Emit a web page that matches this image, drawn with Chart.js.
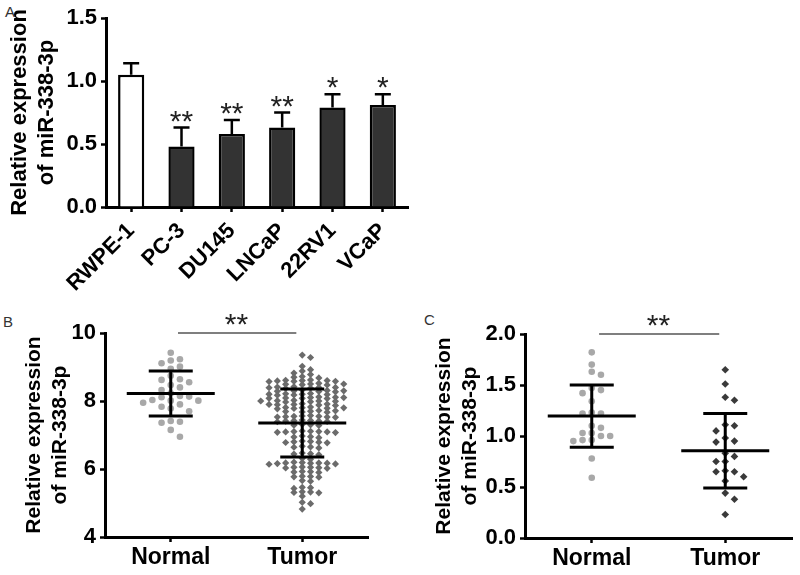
<!DOCTYPE html>
<html><head><meta charset="utf-8">
<script src="https://cdn.jsdelivr.net/npm/chart.js@4.4.1/dist/chart.umd.min.js"></script>
<style>
html,body{margin:0;padding:0;background:#fff;}
#wrap{position:relative;width:800px;height:575px;overflow:hidden;font-family:'Liberation Sans',Arial,sans-serif;}
.pl{position:absolute;font-size:15px;color:#333;line-height:15px;}
canvas{position:absolute;}
</style></head><body>
<div id="wrap">
<div class="pl" style="left:5px;top:4px">A</div>
<div class="pl" style="left:3px;top:314px">B</div>
<div class="pl" style="left:424px;top:312px">C</div>
<canvas id="cA" width="420" height="292" style="left:0;top:0"></canvas>
<canvas id="cB" width="400" height="285" style="left:0;top:290px"></canvas>
<canvas id="cC" width="400" height="285" style="left:400px;top:290px"></canvas>
</div>
<script>
// ---------- data ----------
const cellLines = ['RWPE-1','PC-3','DU145','LNCaP','22RV1','VCaP'];
const meanA = [1.05, 0.48, 0.58, 0.63, 0.79, 0.81];
const errA  = [0.09, 0.15, 0.11, 0.12, 0.105, 0.085];
const sigA  = ['', '**', '**', '**', '*', '*'];

const groups = ['Normal','Tumor'];
const yTitle = ['Relative expression','of miR-338-3p'];

const normalB = [9.42, 9.23, 9.19, 9.11, 9.01, 8.95, 8.74, 8.62, 8.64, 8.55, 8.47, 8.40, 8.32, 8.23, 8.15,
  8.11, 8.13, 8.03, 8.01, 8.01, 7.95, 7.90, 7.83, 7.78, 7.70, 7.41, 7.39, 7.36, 7.15, 6.95];
const tumorB = [9.35, 9.28, 9.02, 8.92, 8.88, 8.82, 8.78, 8.72, 8.70, 8.68,
  8.62, 8.61, 8.60, 8.60, 8.59, 8.58, 8.58, 8.57,
  8.52, 8.50, 8.50, 8.49, 8.48, 8.47,
  8.42, 8.41, 8.40, 8.40, 8.39, 8.38, 8.37,
  8.32, 8.31, 8.30, 8.30, 8.29, 8.28, 8.27,
  8.22, 8.21, 8.20, 8.20, 8.19, 8.18, 8.17,
  8.12, 8.11, 8.10, 8.10, 8.09, 8.08, 8.08, 8.07,
  8.02, 8.01, 8.00, 8.00, 7.99, 7.98, 7.97,
  7.92, 7.91, 7.90, 7.90, 7.89, 7.88, 7.87,
  7.82, 7.81, 7.80, 7.80, 7.79, 7.78, 7.77,
  7.72, 7.71, 7.70, 7.69, 7.68, 7.67,
  7.57, 7.56, 7.55, 7.55, 7.54, 7.53, 7.53, 7.52,
  7.44, 7.43, 7.42, 7.41, 7.41, 7.40, 7.39,
  7.31, 7.30, 7.29, 7.28,
  7.12, 7.11, 7.10, 7.10, 7.09, 7.09, 7.08, 7.07,
  6.97, 6.95, 6.94, 6.92,
  6.82, 6.81, 6.80, 6.79, 6.78, 6.77,
  6.67, 6.65, 6.64, 6.62,
  6.47, 6.45, 6.44, 6.42,
  6.31, 6.29,
  6.20, 6.19, 6.18, 6.18, 6.17, 6.17, 6.16, 6.15, 6.14,
  6.06, 6.05, 6.05, 6.04, 6.03, 6.02,
  5.93, 5.92, 5.91, 5.90,
  5.79, 5.78, 5.77, 5.76,
  5.66, 5.64,
  5.46, 5.45, 5.43,
  5.33, 5.32, 5.31, 5.30,
  5.20, 5.02, 4.98, 4.82];
const meanB = [8.22, 7.35];
const sdB   = [0.66, 1.00];

const normalC = [1.82, 1.70, 1.60, 1.63, 1.47, 1.45, 1.42, 1.34, 1.23, 1.22, 1.22,
  1.10, 1.08, 1.03, 1.03, 1.00, 1.00, 0.95, 0.96, 0.96, 0.78, 0.59];
const tumorC = [1.65, 1.51, 1.38, 1.35, 1.11, 1.10, 1.05, 0.98, 0.95, 0.94, 0.83,
  0.80, 0.75, 0.75, 0.65, 0.65, 0.60, 0.56, 0.66, 0.44, 0.38, 0.23];
const meanC = [1.195, 0.855];
const sdC   = [0.305, 0.365];

// ---------- style ----------
const FF = "'Liberation Sans', Arial, sans-serif";
const tickFont = {family: FF, size: 22, weight: 'bold'};
const black = '#000';
const starFont = "30px " + FF;

function yAxisBase(width, titleSize, titlePad) {
  return {
    grid: {drawOnChartArea: false, tickLength: 5, tickWidth: 2.5, tickColor: black},
    border: {color: black, width: 3},
    ticks: {font: tickFont, color: black, padding: 4},
    title: {display: true, text: yTitle, color: black,
      font: {family: FF, size: titleSize, weight: 'bold', lineHeight: 1.25},
      padding: {top: titlePad, bottom: 0}},
    afterFit(s) { s.width = width; }
  };
}

// ---------- Panel A ----------
const errPlugin = {
  id: 'errA',
  afterDatasetsDraw(chart) {
    const {ctx, scales: {x, y}} = chart;
    ctx.save();
    ctx.strokeStyle = black; ctx.lineWidth = 2.5;
    ctx.fillStyle = '#222';
    ctx.font = starFont; ctx.textAlign = 'center'; ctx.textBaseline = 'alphabetic';
    meanA.forEach((m, i) => {
      const cx = x.getPixelForValue(i);
      const yt = y.getPixelForValue(m);
      const ye = y.getPixelForValue(m + errA[i]);
      ctx.beginPath();
      ctx.moveTo(cx, yt); ctx.lineTo(cx, ye);
      ctx.moveTo(cx - 8, ye); ctx.lineTo(cx + 8, ye);
      ctx.stroke();
      if (sigA[i]) ctx.fillText(sigA[i], cx, ye + 3);
    });
    ctx.restore();
  }
};

new Chart(document.getElementById('cA'), {
  type: 'bar',
  data: {labels: cellLines, datasets: [{
    data: meanA,
    backgroundColor: cellLines.map((c, i) => i === 0 ? '#ffffff' : '#333333'),
    borderColor: black, borderWidth: 2.5,
    barPercentage: 0.52, categoryPercentage: 1
  }]},
  options: {
    responsive: false, animation: false,
    layout: {autoPadding: false, padding: {left: 0, top: 18, right: 12, bottom: 0}},
    plugins: {legend: {display: false}, tooltip: {enabled: false}},
    scales: {
      x: {
        grid: {drawOnChartArea: false, offset: false, tickLength: 5, tickWidth: 2.5, tickColor: black},
        border: {color: black, width: 3},
        ticks: {font: {family: FF, size: 22, weight: 'bold'}, color: black, maxRotation: 45, minRotation: 45, padding: 6, autoSkip: false},
        afterFit(s) { s.height = 85; }
      },
      y: Object.assign(yAxisBase(106, 22, 6), {min: 0, max: 1.5,
        ticks: {font: tickFont, color: black, padding: 4, stepSize: 0.5, callback: v => v.toFixed(1)}})
    }
  },
  plugins: [errPlugin]
});

// ---------- Panels B, C ----------
function statsPlugin(means, sds, id) {
  return {
    id,
    afterDatasetsDraw(chart) {
      const {ctx, scales: {x, y}, chartArea} = chart;
      ctx.save();
      ctx.strokeStyle = black; ctx.lineWidth = 3; ctx.lineCap = 'butt';
      means.forEach((m, i) => {
        const cx = x.getPixelForValue(i + 1);
        const ym = y.getPixelForValue(m);
        const yh = y.getPixelForValue(m + sds[i]);
        const yl = y.getPixelForValue(m - sds[i]);
        ctx.beginPath();
        ctx.moveTo(cx - 44, ym); ctx.lineTo(cx + 44, ym);
        ctx.moveTo(cx, yh); ctx.lineTo(cx, yl);
        ctx.moveTo(cx - 22, yh); ctx.lineTo(cx + 22, yh);
        ctx.moveTo(cx - 22, yl); ctx.lineTo(cx + 22, yl);
        ctx.stroke();
      });
      // significance bar
      const yTop = chartArea.top;
      ctx.strokeStyle = '#555'; ctx.lineWidth = 1.5;
      ctx.beginPath();
      ctx.moveTo(x.getPixelForValue(1.055), yTop); ctx.lineTo(x.getPixelForValue(1.955), yTop);
      ctx.stroke();
      ctx.fillStyle = '#222'; ctx.font = starFont; ctx.textAlign = 'center'; ctx.textBaseline = 'alphabetic';
      ctx.fillText('**', x.getPixelForValue(1.5), yTop + 1);
      ctx.restore();
    }
  };
}

function scatterChart(id, cfg) {
  return new Chart(document.getElementById(id), {
    type: 'scatter',
    data: {datasets: [
      {data: cfg.normal.map(v => ({x: 1, y: v})), pointStyle: 'circle', pointRadius: 3.3,
       backgroundColor: '#a8a8a8', borderWidth: 0},
      {data: cfg.tumor.map(v => ({x: 2, y: v})), pointStyle: 'rectRot', pointRadius: cfg.dRad,
       backgroundColor: cfg.tColor, borderWidth: 0}
    ]},
    options: {
      responsive: false, animation: false,
      layout: {autoPadding: false, padding: cfg.pad},
      plugins: {legend: {display: false}, tooltip: {enabled: false}},
      scales: {
        x: {type: 'linear', min: 0.5, max: 2.5,
          afterBuildTicks(s) { s.ticks = [{value: 1}, {value: 2}]; },
          grid: {drawOnChartArea: false, tickLength: 5, tickWidth: 2.5, tickColor: black},
          border: {color: black, width: 3},
          ticks: {font: {family: FF, size: 23, weight: 'bold'}, color: black, padding: 2,
            callback: v => groups[Math.round(v) - 1]},
          afterFit(s) { s.height = cfg.xh; }
        },
        y: Object.assign(yAxisBase(cfg.yw, 21, cfg.tpad), {min: cfg.min, max: cfg.max,
          ticks: {font: tickFont, color: black, padding: 4, stepSize: cfg.step, callback: cfg.fmt}})
      }
    },
    plugins: [statsPlugin(cfg.means, cfg.sds, id + 's')]
  });
}

function swarm(chart, dsIndex, values, center, minDist, stepPx) {
  const x = chart.scales.x, y = chart.scales.y;
  const unit = x.getPixelForValue(1) - x.getPixelForValue(0);
  const order = values.map((v, i) => i).sort((a, b) => values[b] - values[a]);
  const placed = [];
  const pts = new Array(values.length);
  for (const i of order) {
    const py = y.getPixelForValue(values[i]);
    let slot = 0;
    for (let k = 0; k < 60; k++) {
      const s = k === 0 ? 0 : (k % 2 ? (k + 1) / 2 : -k / 2);
      if (!placed.some(p => p.slot === s && Math.abs(p.py - py) < minDist)) { slot = s; break; }
    }
    placed.push({slot, py});
    pts[i] = {x: center + slot * stepPx / unit, y: values[i]};
  }
  chart.data.datasets[dsIndex].data = pts;
}

const chB = scatterChart('cB', {normal: normalB, tumor: tumorB, means: meanB, sds: sdB,
  dRad: 3.6, tColor: '#6b6b6b', pad: {left: 0, top: 43, right: 32, bottom: 0}, xh: 38, yw: 105, tpad: 21,
  min: 4, max: 10, step: 2, fmt: v => String(v)});
swarm(chB, 0, normalB, 1, 7, 9.2);
swarm(chB, 1, tumorB, 2, 3.8, 8.3);
chB.update('none');

const chC = scatterChart('cC', {normal: normalC, tumor: tumorC, means: meanC, sds: sdC,
  dRad: 3.8, tColor: '#3a3a3a', pad: {left: 0, top: 44, right: 8, bottom: 0}, xh: 37, yw: 125, tpad: 31,
  min: 0, max: 2, step: 0.5, fmt: v => v.toFixed(1)});
swarm(chC, 0, normalC, 1, 7, 9.2);
swarm(chC, 1, tumorC, 2, 7, 9.2);
chC.update('none');
</script>
</body></html>
